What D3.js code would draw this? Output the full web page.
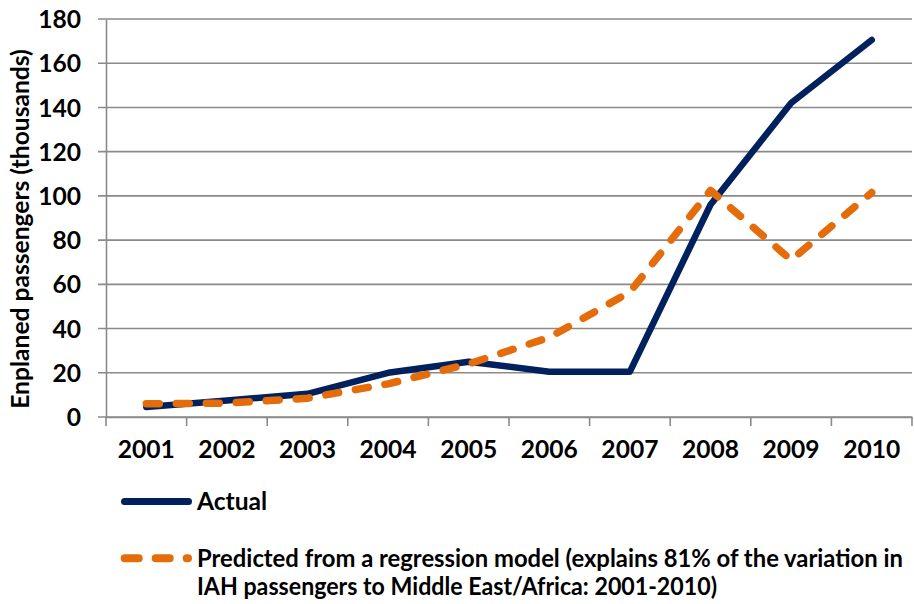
<!DOCTYPE html>
<html>
<head>
<meta charset="utf-8">
<script src="https://cdn.jsdelivr.net/npm/d3@7"></script>
<style>
  html, body { margin: 0; padding: 0; background: #fff; }
  text { font-family: Lato, "Open Sans", sans-serif; font-weight: 700; fill: #000; }
</style>
</head>
<body>
<svg id="chart" width="914" height="604"></svg>
<script>
const years = ["2001","2002","2003","2004","2005","2006","2007","2008","2009","2010"];
const actual = [4.5, 7.5, 10.5, 20, 25, 20.5, 20.5, 96, 142, 170.5];
const predicted = [6, 6.3, 8.5, 15, 24, 36, 56.5, 102.5, 71, 101.5];
const yTicks = [0, 20, 40, 60, 80, 100, 120, 140, 160, 180];
const legendLabels = ["Actual",
  "Predicted from a regression model (explains 81% of the variation in",
  "IAH passengers to Middle East/Africa: 2001-2010)"];

const navy = "#00215E";
const orange = "#E46C0A";
const gridColor = "#8A8A8A";
const fontSize = "24.6px";

const svg = d3.select("#chart");
const plotLeft = 106, plotRight = 912, plotTop = 19, plotBottom = 417;

const x = d3.scaleBand().domain(years).range([plotLeft, plotRight]);
const y = d3.scaleLinear().domain([0, 180]).range([plotBottom, plotTop]);

// horizontal gridlines with short outside ticks
svg.append("g").selectAll("line").data(yTicks).join("line")
  .attr("x1", plotLeft - 8).attr("x2", plotRight)
  .attr("y1", d => y(d)).attr("y2", d => y(d))
  .attr("stroke", gridColor).attr("stroke-width", 1.6);

// y axis
const yAxis = svg.append("g").attr("transform", `translate(${plotLeft},0)`)
  .call(d3.axisLeft(y).tickValues(yTicks).tickSize(0).tickPadding(25));
yAxis.select(".domain").attr("stroke", gridColor).attr("stroke-width", 1.6);
yAxis.selectAll("text").attr("dy", "0.35em")
  .style("font-size", fontSize).style("font-family", "Lato, sans-serif").style("font-weight", 700);

// x axis with ticks between categories
const xAxis = svg.append("g").attr("transform", `translate(0,${plotBottom})`)
  .call(d3.axisBottom(x).tickSize(0).tickPadding(24));
xAxis.select(".domain").attr("stroke", gridColor).attr("stroke-width", 1.6);
xAxis.selectAll("text")
  .style("font-size", fontSize).style("font-family", "Lato, sans-serif").style("font-weight", 700);
const bounds = years.map(d => x(d)).concat([plotRight]);
svg.append("g").selectAll("line").data(bounds).join("line")
  .attr("x1", d => d).attr("x2", d => d)
  .attr("y1", plotBottom).attr("y2", plotBottom + 9)
  .attr("stroke", gridColor).attr("stroke-width", 1.6);

// y axis title
svg.append("text")
  .attr("transform", `translate(29,229) rotate(-90)`)
  .attr("text-anchor", "middle")
  .style("font-size", fontSize)
  .text("Enplaned passengers (thousands)");

const line = d3.line()
  .x((d, i) => x(years[i]) + x.bandwidth() / 2)
  .y(d => y(d));

svg.append("path").datum(actual)
  .attr("d", line)
  .attr("fill", "none").attr("stroke", navy).attr("stroke-width", 6.5)
  .attr("stroke-linejoin", "round").attr("stroke-linecap", "round");

svg.append("path").datum(predicted)
  .attr("d", line)
  .attr("fill", "none").attr("stroke", orange).attr("stroke-width", 7.5)
  .attr("stroke-dasharray", "13,17")
  .attr("stroke-linejoin", "round").attr("stroke-linecap", "round");

// legend
const lg = svg.append("g");
lg.append("line").attr("x1", 124.5).attr("x2", 188.5).attr("y1", 501.5).attr("y2", 501.5)
  .attr("stroke", navy).attr("stroke-width", 7).attr("stroke-linecap", "round");
lg.append("text").attr("x", 197).attr("y", 509.5).style("font-size", fontSize).text(legendLabels[0]);

lg.append("line").attr("x1", 124.7).attr("x2", 188).attr("y1", 558.3).attr("y2", 558.3)
  .attr("stroke", orange).attr("stroke-width", 8).attr("stroke-linecap", "round")
  .attr("stroke-dasharray", "14,17");
lg.append("text").attr("x", 197).attr("y", 566.5).style("font-size", "24px")
  .attr("textLength", 706).attr("lengthAdjust", "spacingAndGlyphs")
  .text(legendLabels[1]);
lg.append("text").attr("x", 197).attr("y", 594.8).style("font-size", fontSize)
  .attr("textLength", 520).attr("lengthAdjust", "spacingAndGlyphs")
  .text(legendLabels[2]);
</script>
</body>
</html>
